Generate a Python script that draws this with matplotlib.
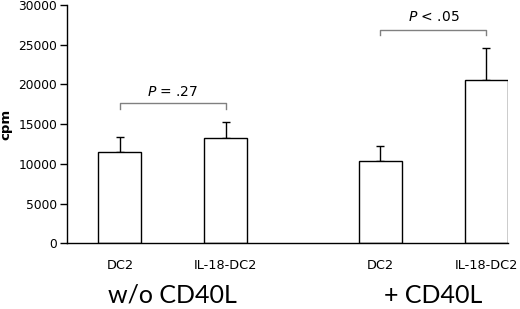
import matplotlib
matplotlib.use("Agg")
import matplotlib.pyplot as plt

categories = ["DC2", "IL-18-DC2", "DC2", "IL-18-DC2"]
groups = ["w/o CD40L", "+ CD40L"]
positions = [0, 1, 2.46, 3.46]
means = [11500, 13300, 10300, 20600]
errors = [1900, 2000, 1950, 3950]
yticks = [0, 5000, 10000, 15000, 20000, 25000, 30000]
brackets = [(0, 1, 17700, 16900, "=", ".27", 19000),
            (2.46, 3.46, 26800, 26250, "<", ".05", 28500)]

fig = plt.figure(figsize=(5.2, 3.09), dpi=100)
ax = fig.add_axes([0.1288, 0.2126, 0.976 - 0.1288, 0.9838 - 0.2126])

font = "DejaVu Sans"
ax.bar(positions, means, width=0.405, color="white", edgecolor="black", linewidth=1.0, zorder=2)
ax.errorbar(positions, means, yerr=[[0] * 4, errors], fmt="none", ecolor="black",
            elinewidth=1.0, capsize=3, capthick=1.0, zorder=1)

for x1, x2, ytop, yend, op, val, ytext in brackets:
    ax.plot([x1, x1, x2, x2], [yend, ytop, ytop, yend], color="#808080", lw=1.0)
    ax.text((x1 + x2) / 2, ytext, f"$\\it{{P}}$ {op} {val}", ha="center", va="center",
            fontsize=10, family=font)

ax.set_xlim(-0.5, 3.66)
ax.set_ylim(0, 30000)
ax.set_yticks(yticks)
ax.set_yticklabels([str(v) for v in yticks], family=font, fontsize=8.8)
ax.set_xticks(positions)
ax.set_xticklabels(categories, family=font, fontsize=9.3)
ax.tick_params(axis="x", length=0, pad=11)
ax.tick_params(axis="y", length=5, width=1.0, direction="out", pad=2)
for s in ["top", "right"]:
    ax.spines[s].set_visible(False)
for s in ["left", "bottom"]:
    ax.spines[s].set_linewidth(1.0)

ax.set_ylabel("cpm", family=font, fontweight="bold", fontsize=9.5)
ax.yaxis.set_label_coords(-0.125, 0.5)

group_x = [(positions[0] + positions[1]) / 2, (positions[2] + positions[3]) / 2]
for gx, g in zip(group_x, groups):
    ax.text(gx, -0.217, g, transform=ax.get_xaxis_transform(), ha="center", va="center",
            fontsize=18, family="Lato")

fig.savefig("out.png", dpi=100)
